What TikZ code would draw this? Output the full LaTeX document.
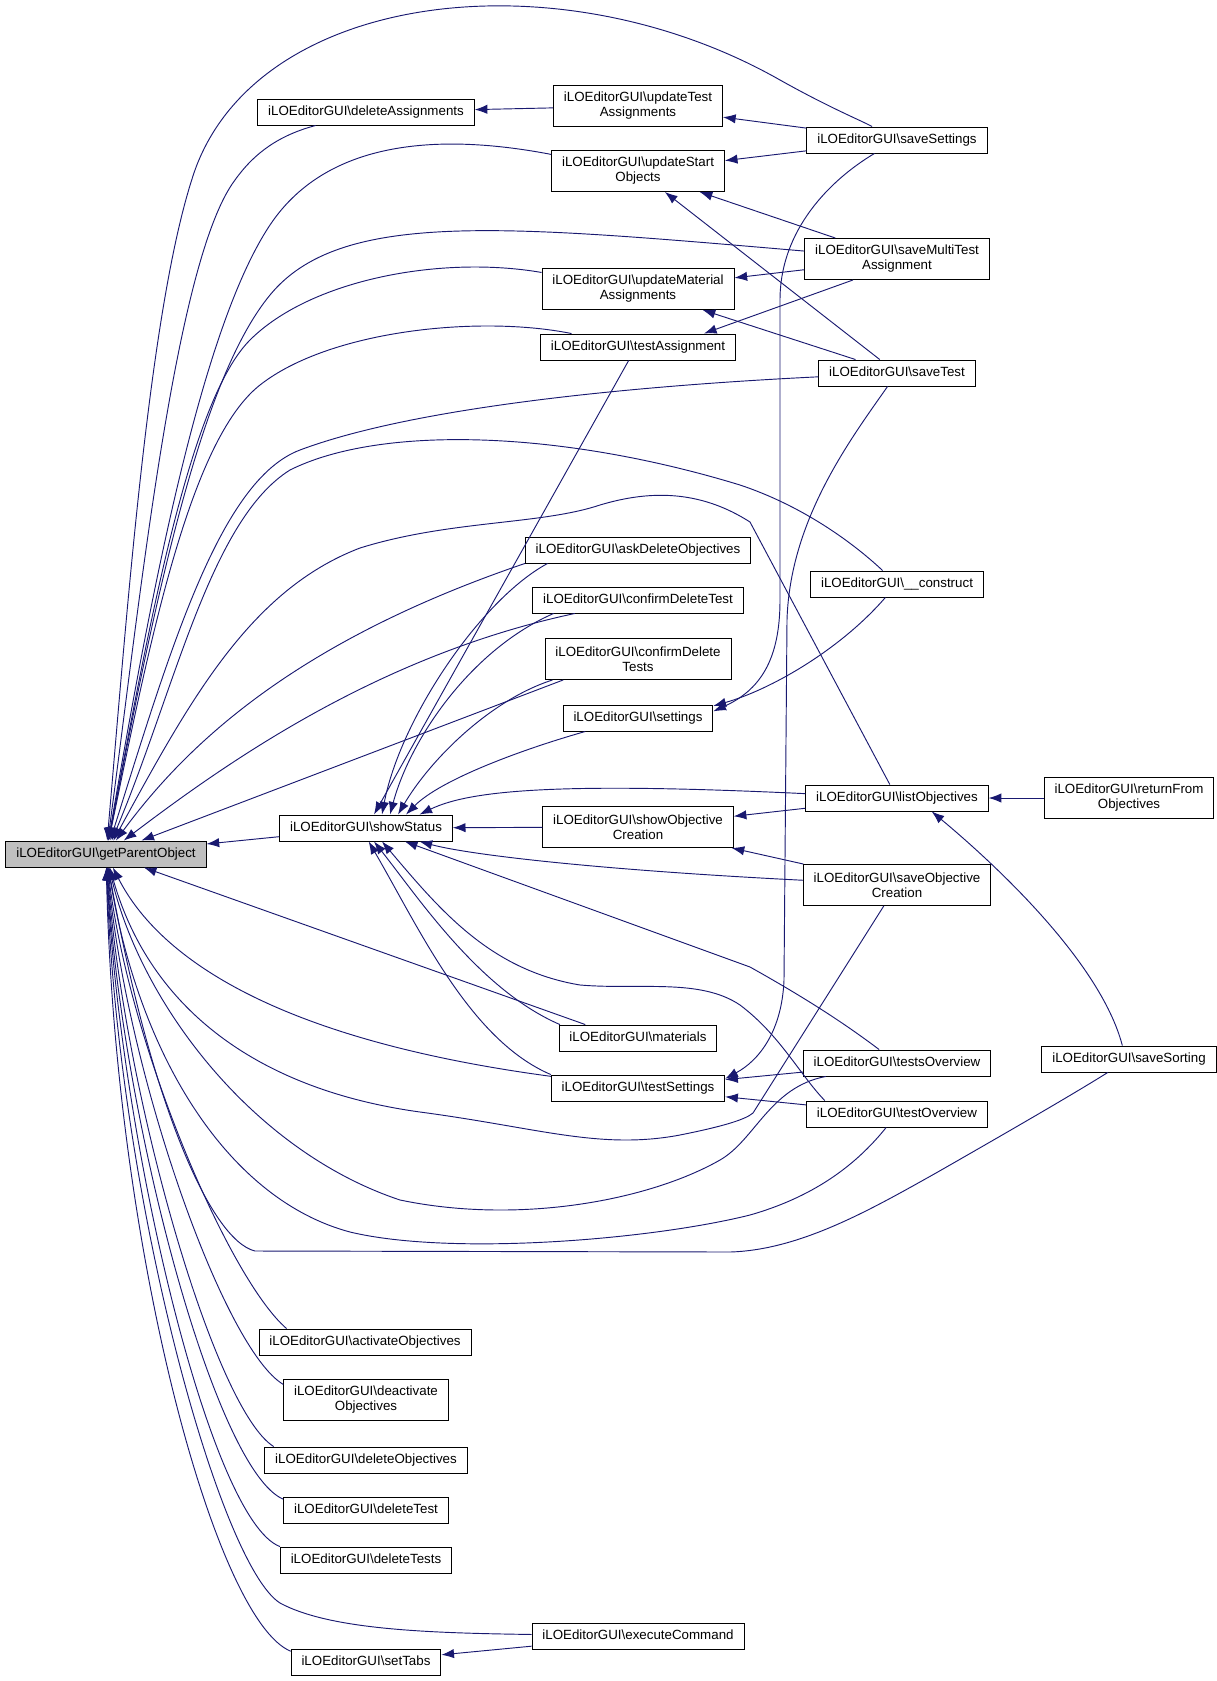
\documentclass[tikz,border=0pt]{standalone}
\usepackage{fontspec}
\setmainfont{Liberation Sans}
\usepackage{tikz}
\usetikzlibrary{positioning}
\usetikzlibrary{arrows.meta}

\definecolor{edgeblue}{HTML}{191970}
\definecolor{rootgray}{HTML}{BFBFBF}
\newcommand{\ilo}[1]{iLOEditorGUI\textbackslash #1}

\tikzset{
  fnbase/.style={draw=black, line width=0.7pt, fill=white, inner xsep=7.8pt, inner ysep=1pt, align=center, font=\fontsize{10pt}{11.25pt}\selectfont},
  fn/.style={fnbase, minimum height=19.5pt, text height=7.5pt, text depth=2.3pt},
  fntwo/.style={fnbase, minimum height=30.75pt},
  call/.style={draw=edgeblue, line width=0.7pt, {Latex[length=9.5pt,width=7pt]}-}
}

\begin{document}
\begin{tikzpicture}[x=0.75pt,y=-0.75pt]
\useasboundingbox (0,0) rectangle (1217,1681);

% nodes
\node[fn, fill=rootgray] (getParentObject) at (106,854) {\ilo{getParentObject}};
\node[fn] (deleteAssignments) at (366,112) {\ilo{deleteAssignments}};
\node[fn] (showStatus) at (366,828) {\ilo{showStatus}};
\node[fn] (activateObjectives) at (365,1342) {\ilo{activateObjectives}};
\node[fntwo] (deactivateObjectives) at (366,1400) {\ilo{deactivate}\\Objectives};
\node[fn] (deleteObjectives) at (366,1460) {\ilo{deleteObjectives}};
\node[fn] (deleteTest) at (366,1510) {\ilo{deleteTest}};
\node[fn] (deleteTests) at (366,1560) {\ilo{deleteTests}};
\node[fn] (setTabs) at (366,1662) {\ilo{setTabs}};

\node[fntwo] (updateTestAssignments) at (638,106) {\ilo{updateTest}\\Assignments};
\node[fntwo] (updateStartObjects) at (638,171) {\ilo{updateStart}\\Objects};
\node[fntwo] (updateMaterialAssignments) at (638,289) {\ilo{updateMaterial}\\Assignments};
\node[fn] (testAssignment) at (638,347) {\ilo{testAssignment}};
\node[fn] (askDeleteObjectives) at (638,550) {\ilo{askDeleteObjectives}};
\node[fn] (confirmDeleteTest) at (638,600) {\ilo{confirmDeleteTest}};
\node[fntwo] (confirmDeleteTests) at (638,659) {\ilo{confirmDelete}\\Tests};
\node[fn] (settings) at (638,718) {\ilo{settings}};
\node[fntwo] (showObjectiveCreation) at (638,827) {\ilo{showObjective}\\Creation};
\node[fn] (materials) at (638,1038) {\ilo{materials}};
\node[fn] (testSettings) at (638,1088) {\ilo{testSettings}};
\node[fn] (executeCommand) at (638,1636) {\ilo{executeCommand}};

\node[fn] (saveSettings) at (897,140) {\ilo{saveSettings}};
\node[fntwo] (saveMultiTestAssignment) at (897,259) {\ilo{saveMultiTest}\\Assignment};
\node[fn] (saveTest) at (897,373) {\ilo{saveTest}};
\node[fn] (construct) at (897,584) {\ilo{\_\_construct}};
\node[fn] (listObjectives) at (897,798) {\ilo{listObjectives}};
\node[fntwo] (saveObjectiveCreation) at (897,885) {\ilo{saveObjective}\\Creation};
\node[fn] (testsOverview) at (897,1063) {\ilo{testsOverview}};
\node[fn] (testOverview) at (897,1114) {\ilo{testOverview}};

\node[fntwo] (returnFromObjectives) at (1129,798) {\ilo{returnFrom}\\Objectives};
\node[fn] (saveSorting) at (1129,1059) {\ilo{saveSorting}};

% callers of getParentObject
\draw[call] (getParentObject) .. controls (128,600) and (150,300) .. (195,170) .. controls (260,-10) and (560,-45) .. (780,80) .. controls (830,108) and (860,120) .. (saveSettings);
\draw[call] (getParentObject) .. controls (140,600) and (175,260) .. (235,180) .. controls (255,152) and (280,135) .. (deleteAssignments);
\draw[call] (getParentObject) .. controls (150,600) and (200,330) .. (270,225) .. controls (330,135) and (450,135) .. (updateStartObjects);
\draw[call] (getParentObject) .. controls (155,600) and (200,380) .. (270,295) .. controls (340,210) and (500,225) .. (saveMultiTestAssignment);
\draw[call] (getParentObject) .. controls (150,620) and (190,400) .. (250,340) .. controls (310,280) and (440,255) .. (updateMaterialAssignments);
\draw[call] (getParentObject) .. controls (150,640) and (190,440) .. (260,385) .. controls (330,330) and (480,315) .. (testAssignment);
\draw[call] (getParentObject) .. controls (170,650) and (220,480) .. (300,450) .. controls (420,405) and (650,385) .. (saveTest);
\draw[call] (getParentObject) .. controls (175,690) and (210,520) .. (290,470) .. controls (380,425) and (560,430) .. (740,485) .. controls (800,505) and (850,540) .. (construct);
\draw[call] (getParentObject) .. controls (190,700) and (250,590) .. (360,548) .. controls (450,520) and (540,525) .. (600,505) .. controls (650,490) and (700,490) .. (750,522) -- (listObjectives);
\draw[call] (getParentObject) .. controls (190,740) and (300,640) .. (askDeleteObjectives.south west);
\draw[call] (getParentObject) .. controls (230,760) and (380,655) .. (confirmDeleteTest);
\draw[call] (getParentObject) -- ([xshift=14pt]confirmDeleteTests.south west);
\draw[call] (getParentObject) -- (showStatus);
\draw[call] (getParentObject) -- ([xshift=20pt]materials.north west);
\draw[call] (getParentObject) .. controls (160,960) and (280,1040) .. (testSettings);
\draw[call] (getParentObject) .. controls (150,1010) and (260,1090) .. (420,1112) .. controls (540,1128) and (600,1150) .. (680,1135) .. controls (720,1127) and (745,1120) .. (753,1113) -- (saveObjectiveCreation);
\draw[call] (getParentObject) .. controls (140,1000) and (250,1150) .. (400,1200) .. controls (520,1225) and (650,1200) .. (720,1160) .. controls (755,1140) and (770,1087) .. (testsOverview);
\draw[call] (getParentObject) .. controls (140,1060) and (230,1200) .. (350,1232) .. controls (450,1256) and (650,1240) .. (750,1215) .. controls (820,1195) and (860,1160) .. (testOverview);
\draw[call] (getParentObject) .. controls (150,1100) and (210,1240) .. (255,1251) -- (730,1252) .. controls (800,1250) and (870,1210) .. (936,1173) .. controls (1020,1125) and (1080,1090) .. (saveSorting);
\draw[call] (getParentObject) .. controls (130,1050) and (230,1280) .. ([xshift=21pt]activateObjectives.north west);
\draw[call] (getParentObject) .. controls (128,1080) and (225,1350) .. ([yshift=-4pt]deactivateObjectives.north west);
\draw[call] (getParentObject) .. controls (125,1100) and (215,1410) .. ([xshift=7pt]deleteObjectives.north west);
\draw[call] (getParentObject) .. controls (122,1120) and (215,1470) .. ([yshift=-2pt]deleteTest.north west);
\draw[call] (getParentObject) .. controls (120,1140) and (210,1520) .. (deleteTests.north west);
\draw[call] (getParentObject) .. controls (118,1200) and (220,1565) .. (280,1603) .. controls (330,1630) and (430,1633) .. (executeCommand);
\draw[call] (getParentObject) .. controls (115,1250) and (215,1620) .. ([yshift=-2pt]setTabs.north west);

% callers of showStatus
\draw[call] ([xshift=6pt]showStatus.north) -- ([xshift=-7pt]testAssignment.south);
\draw[call] ([xshift=12pt]showStatus.north) .. controls (400,720) and (480,600) .. ([xshift=17pt]askDeleteObjectives.south west);
\draw[call] ([xshift=18pt]showStatus.north) .. controls (410,740) and (470,650) .. ([xshift=16pt]confirmDeleteTest.south west);
\draw[call] ([xshift=24pt]showStatus.north) .. controls (430,760) and (490,700) .. ([xshift=6pt]confirmDeleteTests.south west);
\draw[call] ([xshift=30pt]showStatus.north) .. controls (440,780) and (520,750) .. ([xshift=17pt]settings.south west);
\draw[call] ([xshift=-25pt]showStatus.north east) .. controls (470,790) and (560,782) .. (listObjectives);
\draw[call] (showStatus) -- (showObjectiveCreation);
\draw[call] ([xshift=-25pt]showStatus.south east) .. controls (470,855) and (600,870) .. (saveObjectiveCreation);
\draw[call] ([xshift=-36pt]showStatus.south east) -- (750,967) .. controls (800,995) and (840,1020) .. (testsOverview);
\draw[call] ([xshift=12pt]showStatus.south) .. controls (440,910) and (490,970) .. (580,985) .. controls (640,990) and (700,978) .. (740,1005) .. controls (780,1035) and (800,1075) .. ([xshift=14pt]testOverview.north west);
\draw[call] ([xshift=6pt]showStatus.south) .. controls (420,900) and (480,990) .. ([xshift=1pt]materials.north west);
\draw[call] ([xshift=2pt]showStatus.south) .. controls (420,930) and (470,1040) .. (testSettings.north west);

% other calls
\draw[call] (deleteAssignments) -- (updateTestAssignments);
\draw[call] (updateTestAssignments) -- (saveSettings);
\draw[call] (updateStartObjects) -- (saveSettings);
\draw[call] (updateStartObjects) -- (saveMultiTestAssignment);
\draw[call] (updateStartObjects) -- (saveTest);
\draw[call] (updateMaterialAssignments) -- (saveMultiTestAssignment);
\draw[call] (updateMaterialAssignments) -- (saveTest);
\draw[call] ([xshift=-24pt]testAssignment.north east) -- ([xshift=-33pt]saveMultiTestAssignment.south);
\draw[call] ([yshift=5pt]settings.east) .. controls (760,690) and (780,660) .. (780,600) -- (780,300) .. controls (780,230) and (830,180) .. (saveSettings);
\draw[call] ([yshift=-1pt]settings.north east) .. controls (770,690) and (840,650) .. (construct);
\draw[call] ([yshift=7pt]testSettings.east) .. controls (760,1060) and (782,1030) .. (784,980) -- (787,620) .. controls (790,520) and (850,440) .. (saveTest);
\draw[call] (testSettings) -- (testsOverview);
\draw[call] (testSettings) -- (testOverview);
\draw[call] (showObjectiveCreation) -- (listObjectives);
\draw[call] (showObjectiveCreation) -- (saveObjectiveCreation);
\draw[call] (listObjectives) -- (returnFromObjectives);
\draw[call] ([xshift=26pt]listObjectives.south) .. controls (990,860) and (1100,960) .. ([xshift=-5pt]saveSorting.north);
\draw[call] (setTabs) -- (executeCommand);
\end{tikzpicture}
\end{document}
